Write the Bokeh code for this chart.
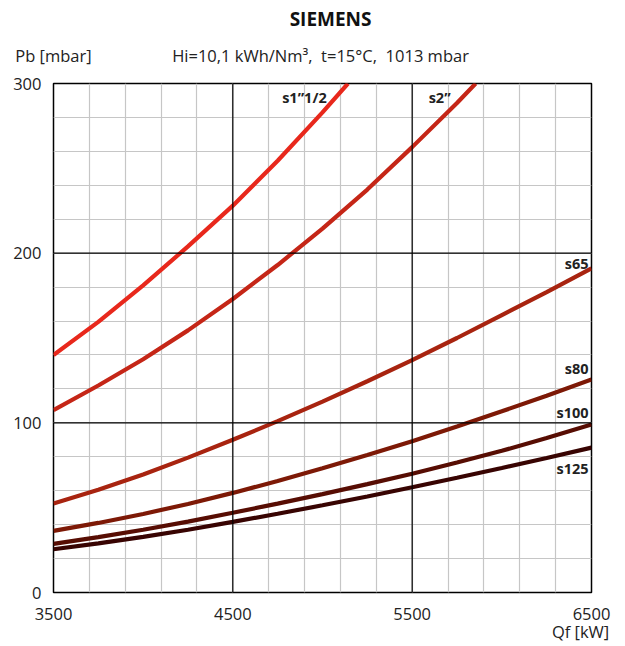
from bokeh.plotting import figure
from bokeh.models import FixedTicker, Span, Label, LinearAxis
from bokeh.embed import file_html
from bokeh.resources import INLINE

# ---- data ----
q_s1 = [3500, 3750, 4000, 4250, 4500, 4750, 5000, 5142]
p_s1 = [140, 159.5, 181, 204, 228, 254.5, 283, 300]

q_s2 = [3500, 3750, 4000, 4250, 4500, 4750, 5000, 5250, 5500, 5750, 5854]
p_s2 = [107.5, 122, 137.5, 154.5, 173, 193, 214.5, 237.5, 262.5, 288.5, 300]

q_std = [3500, 3750, 4000, 4250, 4500, 4750, 5000, 5250, 5500, 5750, 6000, 6250, 6500]
p_s65 = [52.5, 60.5, 69.5, 79.5, 90, 101, 112.5, 124.5, 137, 150, 163.5, 177, 191]
p_s80 = [36.3, 41, 46.3, 52.2, 58.7, 65.7, 73.2, 81, 89.2, 97.8, 106.8, 116, 125.5]
p_s100 = [28.7, 32.6, 37, 41.8, 47, 52.4, 58, 63.9, 70, 76.6, 83.5, 91, 99]
p_s125 = [25.5, 29, 32.8, 37, 41.6, 46.4, 51.4, 56.6, 62, 67.6, 73.4, 79.3, 85.4]

series_names = ["s1\u201d1/2", "s2\u201d", "s65", "s80", "s100", "s125"]
x_ticks = [3500, 4500, 5500, 6500]
y_ticks = [0, 100, 200, 300]

title_text = "SIEMENS"
subtitle_text = "Hi=10,1 kWh/Nm\u00b3,\u00a0 t=15\u00b0C,\u00a0 1013 mbar"
y_name = "Pb [mbar]"
x_name = "Qf [kW]"

FONT = "Open Sans"
TXT = "#222222"

p = figure(width=625, height=646, x_range=(3500, 6500), y_range=(0, 300),
           output_backend="svg", toolbar_location=None,
           min_border_left=53, min_border_right=34, min_border_top=83, min_border_bottom=54)
p.background_fill_color = "white"
p.border_fill_color = "white"
p.outline_line_color = "black"
p.outline_line_width = 1.5

# minor grid
p.xgrid.ticker = FixedTicker(ticks=list(range(3500, 6501, 200)))
p.ygrid.ticker = FixedTicker(ticks=list(range(0, 301, 20)))
for g in (p.xgrid, p.ygrid):
    g.grid_line_color = "#c6c6c6"
    g.grid_line_width = 1.2

# major grid (black)
for xv in x_ticks[1:-1]:
    p.add_layout(Span(location=xv, dimension="height", line_color="black", line_width=1.2))
for yv in y_ticks[1:-1]:
    p.add_layout(Span(location=yv, dimension="width", line_color="black", line_width=1.2))


def plain(ax, size, standoff, style="normal", color=TXT):
    ax.axis_line_color = None
    ax.major_tick_line_color = None
    ax.minor_tick_line_color = None
    ax.major_tick_out = 0
    ax.major_tick_in = 0
    ax.minor_tick_out = 0
    ax.minor_tick_in = 0
    ax.major_label_text_font = FONT
    ax.major_label_text_font_size = size
    ax.major_label_text_font_style = style
    ax.major_label_text_color = color
    ax.major_label_standoff = standoff


# main axes
p.xaxis.ticker = FixedTicker(ticks=x_ticks)
p.yaxis.ticker = FixedTicker(ticks=y_ticks)
plain(p.xaxis[0], "16.5px", 15)
plain(p.yaxis[0], "16.5px", 12)

# top line: y-quantity name and conditions
top_axis = LinearAxis(ticker=FixedTicker(ticks=[3500, 4989]),
                      major_label_overrides={3500: y_name, 4989: subtitle_text})
plain(top_axis, "16.5px", 17)
p.add_layout(top_axis, "above")

# title line
title_axis = LinearAxis(ticker=FixedTicker(ticks=[5045]),
                        major_label_overrides={5045: title_text})
plain(title_axis, "19px", 9, style="bold", color="#111111")
p.add_layout(title_axis, "above")

# x quantity name, below the tick labels at the right end
name_axis = LinearAxis(ticker=FixedTicker(ticks=[6439]),
                       major_label_overrides={6439: x_name})
plain(name_axis, "16.5px", -3)
p.add_layout(name_axis, "below")

colors = ["#e8281c", "#c52617", "#a82410", "#7d1906", "#570d03", "#380402"]
curves = [(q_s1, p_s1), (q_s2, p_s2), (q_std, p_s65), (q_std, p_s80), (q_std, p_s100), (q_std, p_s125)]
for (qx, py), c in zip(curves, colors):
    p.line(qx, py, line_color=c, line_width=4.2)

# curve labels
label_pos = [(5040, 292), (5731, 292), (6500, 194), (6500, 132), (6500, 106), (6500, 73)]
for name, (lx, ly) in zip(series_names, label_pos):
    p.add_layout(Label(x=lx, y=ly, x_offset=-3, text=name, text_align="right",
                       text_baseline="middle", text_font=FONT, text_font_style="bold",
                       text_font_size="14.5px", text_color=TXT))

open("out.html", "w").write(file_html(p, INLINE))
